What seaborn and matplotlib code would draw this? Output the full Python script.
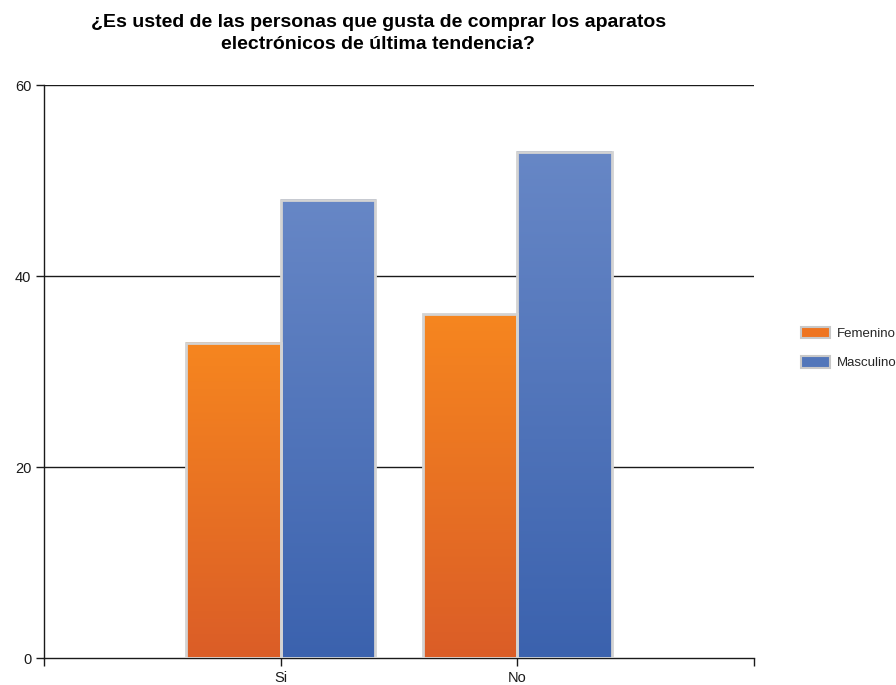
import numpy as np
import pandas as pd
import matplotlib
matplotlib.use("Agg")
import matplotlib.pyplot as plt
from matplotlib.colors import LinearSegmentedColormap
from matplotlib.patches import Patch
import seaborn as sns

# Survey answers by gender
categories = ["Si", "No"]
series_names = ["Femenino", "Masculino"]
femenino = [33, 36]
masculino = [48, 53]
title = "¿Es usted de las personas que gusta de comprar los aparatos\nelectrónicos de última tendencia?"

df = pd.DataFrame({
    "respuesta": categories * 2,
    "genero": [series_names[0]] * len(categories) + [series_names[1]] * len(categories),
    "valor": femenino + masculino,
})

sns.set_theme(style="white")
plt.rcParams["font.family"] = ["Liberation Sans", "DejaVu Sans"]

fig = plt.figure(figsize=(8.96, 6.85), dpi=100)
ax = fig.add_axes([0.0491, 0.0394, 0.7924, 0.8365])

base = {"Femenino": "#E8711F", "Masculino": "#5276BA"}
sns.barplot(data=df, x="respuesta", y="valor", hue="genero", order=categories,
            hue_order=series_names, palette=base, width=0.8, ax=ax,
            legend=False, errorbar=None, saturation=1)

# Vertical gradient fills for each series
grads = {
    "Femenino": LinearSegmentedColormap.from_list("fem", ["#DB5D27", "#F6861F"]),
    "Masculino": LinearSegmentedColormap.from_list("mas", ["#3B62AE", "#6787C6"]),
}
grad = np.linspace(0, 1, 256).reshape(-1, 1)
n = len(categories)
for i, patch in enumerate(ax.patches[: 2 * n]):
    name = series_names[i // n]
    x0, y0 = patch.get_x(), patch.get_y()
    w, h = patch.get_width(), patch.get_height()
    ax.imshow(grad, cmap=grads[name], aspect="auto", origin="lower",
              extent=(x0, x0 + w, y0, y0 + h), zorder=2, interpolation="bilinear")
    patch.set_facecolor("none")
    patch.set_edgecolor("#D3D3D3")
    patch.set_linewidth(2)
    patch.set_zorder(3)

ax.set_xlim(-1, 2)
ax.set_ylim(0, 60)
ax.set_yticks([0, 20, 40, 60])
ax.set_xticks([0, 1])
ax.set_xticks([-1, 2], minor=True)
ax.set_xticklabels(categories)
ax.set_xlabel("")
ax.set_ylabel("")

for y in [20, 40, 60]:
    ax.axhline(y, color="#1a1a1a", lw=1, zorder=1)

for side in ["top", "right"]:
    ax.spines[side].set_visible(False)
for side in ["left", "bottom"]:
    ax.spines[side].set_color("#1a1a1a")
    ax.spines[side].set_linewidth(1)

ax.tick_params(axis="both", which="both", direction="out", length=6, width=1,
               color="#1a1a1a", labelsize=10.5, labelcolor="#1a1a1a", pad=3,
               bottom=True, left=True)
ax.set_facecolor("white")

handles = [Patch(facecolor="#EE7420", edgecolor="#C8C8C8", lw=1.5),
           Patch(facecolor="#5276BA", edgecolor="#C8C8C8", lw=1.5)]
fig.legend(handles, series_names, loc="center left",
           bbox_to_anchor=(0.887, 0.492), frameon=False, fontsize=9.5,
           handlelength=2.2, handleheight=1.0, handletextpad=0.5,
           labelspacing=1.2, borderpad=0)

fig.text(0.422, 0.951, title, ha="center", va="center", fontsize=14,
         fontweight="bold", color="black", linespacing=1.4)

fig.savefig("out.png", dpi=100, facecolor="white")
